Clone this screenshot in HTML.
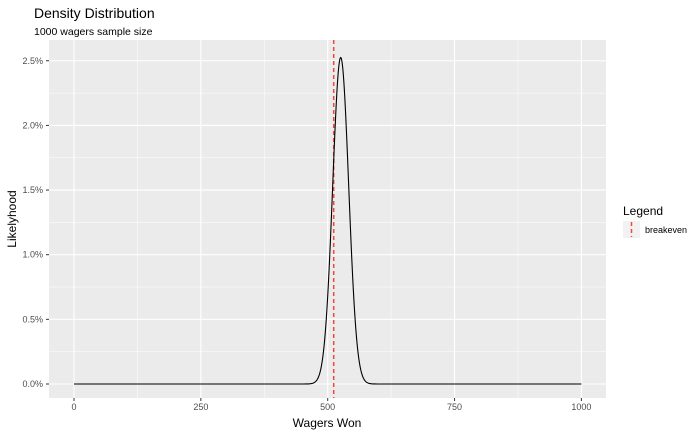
<!DOCTYPE html>
<html><head><meta charset="utf-8"><style>
html,body{margin:0;padding:0;background:#fff;}
svg{display:block;font-family:"Liberation Sans",Arial,sans-serif;}
</style></head><body>
<svg id="s" width="700" height="435" xmlns="http://www.w3.org/2000/svg">
<rect width="700" height="435" fill="#fff"/>
<text x="34" y="18" font-size="14" fill="#000">Density Distribution</text>
<text x="34" y="35" font-size="10.5" fill="#000">1000 wagers sample size</text>
<rect x="49" y="40" width="557" height="358" fill="#ebebeb"/>
<g id="grid"></g>
<g font-size="9" fill="#4d4d4d" text-anchor="end" id="yl"></g>
<g font-size="9" fill="#4d4d4d" text-anchor="middle" id="xl"></g>
<line x1="333.7" y1="40" x2="333.7" y2="398" stroke="#f0483e" stroke-width="1.5" stroke-dasharray="4,3"/>
<path id="curve" fill="none" stroke="#000" stroke-width="1.1"/>
<text x="327" y="427" font-size="12" text-anchor="middle" fill="#000">Wagers Won</text>
<text transform="translate(16,219) rotate(-90)" font-size="12" text-anchor="middle" fill="#000">Likelyhood</text>
<text x="623" y="215" font-size="12" fill="#000">Legend</text>
<rect x="623" y="221" width="17" height="17" fill="#f2f2f2"/>
<line x1="631.5" y1="222" x2="631.5" y2="237" stroke="#f0483e" stroke-width="1.5" stroke-dasharray="4,3"/>
<text x="645" y="233" font-size="9" fill="#000">breakeven</text>
</svg>
<script>
var X=function(v){return 74+v*0.5074;},Y=function(p){return 384-p*129.3;};
var g=document.getElementById('grid'),yl=document.getElementById('yl'),xl=document.getElementById('xl');
var h='',t='',u='';
for(var i=0;i<=5;i++){var y=Y(i*0.5);h+='<line x1="49" x2="606" y1="'+y+'" y2="'+y+'" stroke="#fff" stroke-width="1.1"/>';
if(i<5){var y2=Y(i*0.5+0.25);h+='<line x1="49" x2="606" y1="'+y2+'" y2="'+y2+'" stroke="#fff" stroke-width="0.5"/>';}
t+='<text x="43" y="'+(y+3)+'">'+(i*0.5).toFixed(1)+'%</text><line x1="46" x2="49" y1="'+y+'" y2="'+y+'" stroke="#333"/>';}
for(var j=0;j<=4;j++){var x=X(j*250);h+='<line y1="40" y2="398" x1="'+x+'" x2="'+x+'" stroke="#fff" stroke-width="1.1"/>';
if(j<4){var x2=X(j*250+125);h+='<line y1="40" y2="398" x1="'+x2+'" x2="'+x2+'" stroke="#fff" stroke-width="0.5"/>';}
u+='<text x="'+x+'" y="410">'+(j*250)+'</text><line y1="398" y2="401" x1="'+x+'" x2="'+x+'" stroke="#333"/>';}
g.innerHTML=h;yl.innerHTML=t;xl.innerHTML=u;
var d='',m=525.6,s=15.8;
for(var v=0;v<=1000;v+=0.5){var p=100*Math.exp(-0.5*Math.pow((v-m)/s,2))/(s*Math.sqrt(2*Math.PI));d+=(v?'L':'M')+X(v).toFixed(2)+','+Y(p).toFixed(2);}
document.getElementById('curve').setAttribute('d',d);
</script>
</body></html>
